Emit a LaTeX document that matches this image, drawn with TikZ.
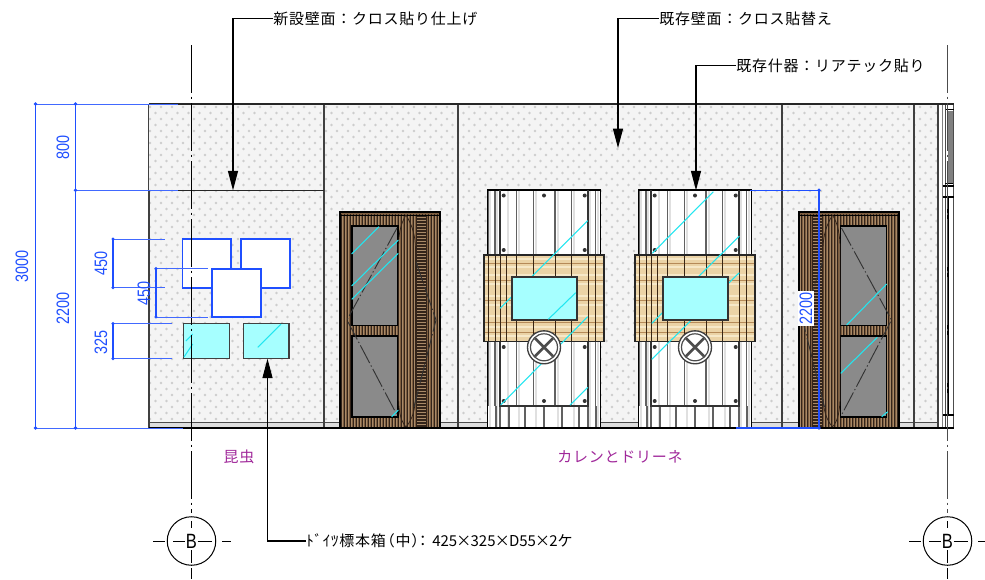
\documentclass[tikz,border=0pt]{standalone}
\usepackage{fontspec}
\usetikzlibrary{arrows.meta}
\setmainfont{Liberation Sans}
\newfontfamily\jpls[LetterSpace=5]{Noto Sans CJK JP}
\newfontfamily\jpnn{Noto Sans CJK JP}
\newfontfamily\narrowf[FakeStretch=0.8]{Liberation Sans}
\definecolor{dimblue}{HTML}{1F4FFF}
\definecolor{glasscy}{HTML}{A6FFFF}
\definecolor{cyanln}{HTML}{22E6F0}
\definecolor{labelpur}{HTML}{A0289A}
\definecolor{wallbg}{HTML}{F4F4F4}
\definecolor{walldot}{HTML}{CDCDCD}
\definecolor{woodbase}{HTML}{7D5D3F}
\definecolor{woodlt}{HTML}{A98A68}
\definecolor{wooddk}{HTML}{33241A}
\definecolor{bandbg}{HTML}{EBD3A6}
\definecolor{bandlt}{HTML}{F6E8C8}
\definecolor{bandbr}{HTML}{B58A58}
\tikzset{
  x=0.75pt,y=-0.75pt,
  wallline/.style={draw=black!75,line width=1.5pt},
  topline/.style={draw=black!85,line width=1.6pt},
  dimln/.style={draw=dimblue,line width=0.8pt},
  extln/.style={draw=dimblue!85,line width=0.7pt},
  dimdot/.style={fill=dimblue,circle,inner sep=0pt,minimum size=2.9pt},
  dimtxt/.style={text=dimblue,rotate=90,inner sep=0pt,font=\narrowf\fontsize{13.5}{14}\selectfont},
  leader/.style={draw=black,line width=0.8pt},
  leadarr/.style={leader,-{Triangle[length=14.5pt,width=7.5pt]}},
  jptxt/.style={anchor=west,inner sep=0pt,font=\jpls\fontsize{11.25}{13}\selectfont},
  roomtxt/.style={inner sep=0pt,text=labelpur,font=\jpls\fontsize{11.25}{13}\selectfont},
  centerln/.style={draw=black,line width=0.75pt,dash pattern=on 36pt off 2.8pt on 1.4pt off 3.3pt},
  gridln/.style={draw=black,line width=0.75pt},
  gridcirc/.style={circle,draw=black,line width=0.75pt,minimum size=36.4pt,inner sep=0pt},
  gridB/.style={inner sep=0pt,font=\narrowf\fontsize{15.5}{16}\selectfont},
  bluebox/.style={draw=dimblue,line width=1.2pt,fill=white},
  cyanbox/.style={draw=black!75,line width=0.9pt,fill=glasscy},
  cyl/.style={draw=cyanln,line width=0.8pt},
  glass/.style={draw=black,line width=1.3pt,fill=black!46},
  swing/.style={draw=black!80,line width=0.7pt,dash pattern=on 15pt off 2pt on 1pt off 2pt},
  rib/.style={draw=black!62,line width=1pt},
  ribshade/.style={draw=black!12,line width=1.8pt},
  screw/.style={fill=black!80,circle,inner sep=0pt,minimum size=3pt},
}
\newcommand{\doorshape}{%
  \fill[woodbase] (340,212) rectangle (440,428);
  \foreach \xx in {341,344,...,440} {\draw[wooddk,line width=0.6pt] (\xx,214) -- (\xx,428);}
  \foreach \xx in {342.5,345.5,...,440} {\draw[woodlt,line width=0.5pt] (\xx,216) -- (\xx,428);}
  \fill[wooddk] (416,216) rectangle (427,428);
  \foreach \yy in {217,220,...,427} {\draw[woodlt,line width=0.7pt] (417,\yy) -- (426,\yy);}
  \draw[black,line width=1.5pt] (340,212) rectangle (440,428);
  \draw[black,line width=0.6pt] (341,215.5) -- (439,215.5);
  \draw[glass] (352,226) rectangle (398,325.5);
  \draw[glass] (352,336) rectangle (398,417);
  \draw[wooddk,line width=0.55pt] (406,215) .. controls (400,225) and (398.5,235) .. (398.5,250) -- (398.5,395) .. controls (398.5,410) and (400,420) .. (406,427);
  \draw[wooddk,line width=0.55pt] (406,215) .. controls (412,225) and (415.5,235) .. (415.5,250) -- (415.5,395) .. controls (415.5,410) and (412,420) .. (406,427);
  \draw[swing] (397,228) -- (347,320) -- (397,415);
  \draw[swing] (416,262) -- (436,320) -- (414,407);
}
\newcommand{\cabshape}{%
  \fill[white] (487.3,190) rectangle (600.7,428);
  \foreach \xx in {490,497,508,519,536,558,574,590,598} {\draw[ribshade] (\xx,191) -- (\xx,427);}
  \foreach \xx in {488,495,516.7,533.3,555,571.3,595.7} {\draw[rib] (\xx,191) -- (\xx,406);}
  \foreach \xx in {496,500,509,525,544,562,579,588,596} {\draw[rib,line width=0.8pt] (\xx,406) -- (\xx,428);}
  \draw[black,line width=0.9pt] (487.3,428) -- (487.3,190) -- (600.7,190) -- (600.7,428);
  \draw[black!80,line width=0.9pt] (500,190) -- (500,406) -- (588,406) -- (588,190);
  \foreach \xx/\yy in {503.7/195.5,544/195.5,584.7/195.5,503.7/250,584.7/250,503.7/347,584.7/347,503.7/401,544/401,584.7/401}
    {\node[screw] at (\xx,\yy) {};}
  \fill[bandbg] (484,255) rectangle (604,341.7);
  \foreach \yy in {259,267,275,284,296,305,316,327,336} {\draw[bandlt,line width=0.8pt] (484.5,\yy) -- (603.5,\yy);}
  \foreach \yy in {263,280,300,322,332} {\draw[bandbr,line width=0.5pt] (484.5,\yy) -- (603.5,\yy);}
  \foreach \xx in {488,495,500,506,516.7,533.3,555,571.3,588,595.7} {\draw[draw=black!70!brown,line width=0.7pt] (\xx,255) -- (\xx,341.7);}
  \draw[black!85,line width=0.8pt] (484,255) rectangle (604,341.7);
}
\newcommand{\cabfront}{%
  \draw[draw=black!80,fill=glasscy,line width=1.5pt] (512,277) rectangle (576.7,320);
}
\newcommand{\cabvent}{%
  \draw[draw=black!75,fill=white,line width=1pt] (544,347.3) circle (16.5);
  \draw[draw=black!70,line width=0.9pt] (544,347.3) circle (13.5);
  \draw[draw=black!70,line width=2pt] (535,338.3) -- (553,356.3) (553,338.3) -- (535,356.3);
}
\begin{document}
\begin{tikzpicture}
\useasboundingbox (0,0) rectangle (985,579);
% wall
\fill[wallbg] (149,104) rectangle (937,422);
\begin{scope}
\clip (149,104) rectangle (937,422);
\foreach \r in {0,...,53} {
  \foreach \c in {0,...,72} {
    \fill[walldot] ({150+\c*11+mod(\r,2)*5.5},{107+\r*6}) circle (1.4);
  }
}
\end{scope}
\fill[black!13] (149,422) rectangle (937,428);
\draw[black!70,line width=0.7pt] (149,422) -- (937,422);
% partitions
\draw[wallline] (324,104) -- (324,428);
\draw[wallline,line width=1.3pt] (458,104) -- (458,428);
\draw[wallline,line width=1.3pt] (782,104) -- (782,428);
\draw[wallline,line width=1.3pt] (914,104) -- (914,428);
\draw[wallline,line width=1.9pt] (149,190) -- (149,428);
\draw[wallline,line width=0.8pt] (148.5,104) -- (148.5,190);
\draw[black!85,line width=0.8pt] (149,190.3) -- (324,190.3);
% right end detail
\fill[white] (938,104) rectangle (954,428);
\draw[wallline,line width=1.5pt] (937.5,104) -- (937.5,428);
\draw[black!50,line width=0.8pt] (942.5,104) -- (942.5,428);
\draw[black!70,line width=0.8pt] (945.5,104) -- (945.5,428);
\draw[black!70,line width=0.8pt] (953.5,104) -- (953.5,428);
\fill[black!50] (947.5,111) rectangle (953,183);
\draw[black,line width=0.7pt] (945.5,109) -- (953.5,109) (945,183) -- (953,183);
\draw[black,line width=1.2pt] (942.5,186) -- (954,186) (942.5,197) -- (954,197);
\draw[black,line width=1.5pt] (948,197) -- (948,415);
\draw[black,line width=0.9pt] (943,415) -- (954,415);
% doors
\doorshape
\draw[cyl] (351.7,254) -- (379,226.7);
\draw[cyl] (351.7,286) -- (398.3,240);
\draw[cyl] (351.7,299.3) -- (398.3,253.3);
\draw[cyl] (391.7,416.7) -- (398.3,410);
\begin{scope}[shift={(1238.5,0)},xscale=-1]
\doorshape
\end{scope}
\draw[cyl] (846.7,325) -- (886.7,284);
\draw[cyl] (840.7,373.3) -- (877.3,337.3);
\draw[cyl] (881.7,416.7) -- (887.7,411.7);
% cabinets
\cabshape
\draw[cyl] (500,308.3) -- (587.7,220.7);
\draw[cyl] (500.7,405) -- (587.7,316.7);
\draw[cyl] (570,405) -- (587.7,387.3);
\cabfront
\draw[cyl] (548.3,319.3) -- (575.7,292.7);
\cabvent
\begin{scope}[shift={(151,0)}]
\cabshape
\end{scope}
\draw[cyl] (652.3,253.3) -- (713.3,191.7);
\draw[cyl] (651.7,323.3) -- (739.3,236);
\draw[cyl] (651.7,359.3) -- (739.3,272.7);
\begin{scope}[shift={(151,0)}]
\cabfront
\cabvent
\end{scope}
% outlines on top
\draw[topline] (149,104) -- (954,104);
\draw[black,line width=2.2pt] (149,428) -- (954,428);
% specimen boxes
\draw[bluebox] (182.5,239) rectangle (231,287.7);
\draw[bluebox] (241,239) rectangle (290,287.7);
\draw[bluebox] (212,268.7) rectangle (261,317);
\draw[cyanbox] (183.5,323.7) rectangle (229.5,358.7);
\draw[cyanbox] (243.3,323.7) rectangle (289,358.7);
\draw[cyl] (192.7,334) -- (186,341);
\draw[cyl] (192.7,344) -- (184,357);
\draw[cyl] (257.7,347.3) -- (281,324);
% center lines
\coordinate (clAtop) at (191.5,45);
\coordinate (clAbot) at (191.5,513);
\coordinate (clBtop) at (947.5,45);
\coordinate (clBbot) at (947.5,513);
\draw[centerln] (clAtop) -- (clAbot);
\draw[centerln,draw=black!70] (clBtop) -- (clBbot);
% grid bubbles
\node[gridcirc] (bubA) at (191.5,541) {};
\node[gridB] (txtA) at (191.5,541) {B};
\node[gridcirc] (bubB) at (947.5,541) {};
\node[gridB] (txtB) at (947.5,541) {B};
\foreach \cx in {191.5,947.5} {
  \draw[gridln] (\cx,521) -- (\cx,528) (\cx,550) -- (\cx,563) (\cx,568) -- (\cx,579);
  \draw[gridln] ({\cx-38.5},541) -- ({\cx-26.5},541) ({\cx-18.5},541) -- ({\cx-7},541) ({\cx+6},541) -- ({\cx+20.5},541) ({\cx+30.5},541) -- ({\cx+39.5},541);
}
% dimensions
\coordinate (d1t) at (35.5,104);
\coordinate (d1b) at (35.5,428);
\coordinate (d2t) at (75.5,104);
\coordinate (d2m) at (75.5,190.3);
\coordinate (d2b) at (75.5,428);
\draw[extln] (d1t) -- (178,104);
\draw[extln] (d2m) -- (178,190.3);
\draw[extln] (d1b) -- (183,428);
\draw[dimln] (d1t) -- (d1b);
\draw[dimln] (d2t) -- (d2b);
\foreach \p in {d1t,d1b,d2t,d2m,d2b} {\node[dimdot] at (\p) {};}
\node[dimtxt] (t3000) at (22,266) {3000};
\node[dimtxt] (t800) at (63,147) {800};
\node[dimtxt] (t2200a) at (63,308) {2200};
\coordinate (e1t) at (113,239);
\coordinate (e1b) at (113,287.7);
\coordinate (e2t) at (156,268.7);
\coordinate (e2b) at (156,317);
\coordinate (e3t) at (113,323.7);
\coordinate (e3b) at (113,358.7);
\draw[extln] (e1t) -- (165,239);
\draw[extln] (e1b) -- (165,287.7);
\draw[extln] (e2t) -- (208,268.7);
\draw[extln] (e2b) -- (208,317);
\draw[extln] (e3t) -- (172,323.7);
\draw[extln] (e3b) -- (172,358.7);
\draw[dimln] (e1t) -- (e1b);
\draw[dimln] (e2t) -- (e2b);
\draw[dimln] (e3t) -- (e3b);
\foreach \p in {e1t,e1b,e2t,e2b,e3t,e3b} {\node[dimdot,minimum size=2.6pt] at (\p) {};}
\node[dimtxt] (t450a) at (101,263) {450};
\node[dimtxt] (t450b) at (144,293) {450};
\node[dimtxt] (t325) at (101,342) {325};
\coordinate (r1t) at (819,190.3);
\coordinate (r1b) at (819,428);
\draw[dimln] (750,190.3) -- (r1t);
\draw[dimln,line width=1.2pt] (736,428) -- (r1b);
\draw[dimln] (r1t) -- (r1b);
\node[dimdot] at (r1t) {};
\node[dimdot] at (r1b) {};
\node[dimtxt,fill=white,inner xsep=1pt,inner ysep=1.5pt] (t2200b) at (806,308.5) {2200};
% leaders and texts
\node[jptxt] (lb1) at (273,18.5) {新設壁面：クロス貼り仕上げ};
\node[jptxt] (lb2) at (659,18.5) {既存壁面：クロス貼替え};
\node[jptxt] (lb3) at (736,65.5) {既存什器：リアテック貼り};
\node[jptxt] (lb4) at (306,541) {ﾄﾞｲﾂ標本箱\kern-4.5pt（中）\kern-8.25pt：\kern1.5pt{\jpnn 425}\kern-0.6pt×\kern-0.6pt{\jpnn 325}\kern-0.6pt×\kern-0.6pt{\jpnn D55}\kern-0.6pt×\kern-0.6pt{\jpnn 2}ケ};
\coordinate (ar1) at (233,190.3);
\coordinate (ar2) at (618,148);
\coordinate (ar3) at (696,190.3);
\coordinate (ar4) at (267.5,358.7);
\draw[leadarr] (lb1.west) -| (ar1);
\draw[leadarr] (lb2.west) -| (ar2);
\draw[leadarr] (lb3.west) -| (ar3);
\draw[leadarr] (lb4.west) -| (ar4);
\node[roomtxt] (room1) at (239,457) {昆虫};
\node[roomtxt] (room2) at (620,457) {カレンとドリーネ};
\end{tikzpicture}
\end{document}
